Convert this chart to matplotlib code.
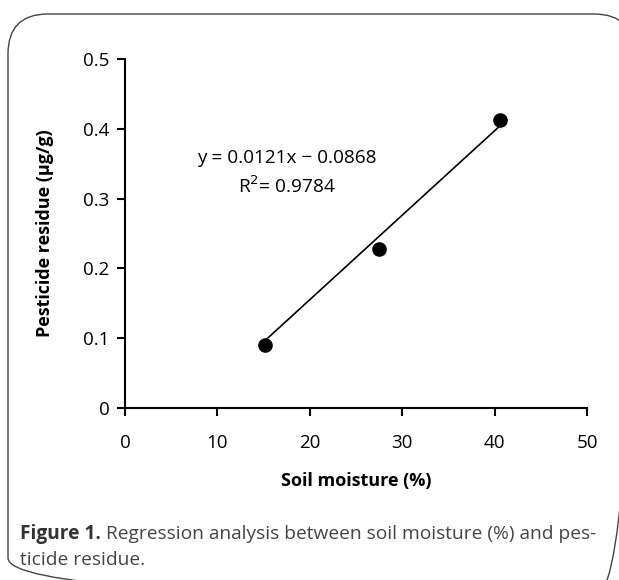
import numpy as np
import matplotlib
matplotlib.use("Agg")
import matplotlib.pyplot as plt
from matplotlib.patches import FancyBboxPatch

plt.rcParams['font.family'] = ['Open Sans', 'DejaVu Sans']

# data
soil_moisture = [15.1, 27.5, 40.6]
residue = [0.090, 0.228, 0.412]
slope = 0.0121
intercept = -0.0868
r2 = 0.9784
x_ticks = [0, 10, 20, 30, 40, 50]
y_ticks = [0, 0.1, 0.2, 0.3, 0.4, 0.5]
y_tick_labels = ['0', '0.1', '0.2', '0.3', '0.4', '0.5']

W, H = 619, 580
fig = plt.figure(figsize=(W / 100, H / 100), dpi=100)

# rounded frame around the figure panel
bg = fig.add_axes([0, 0, 1, 1])
bg.set_xlim(0, W)
bg.set_ylim(H, 0)
bg.axis('off')
frame = FancyBboxPatch((8, 14), 626, 584, boxstyle="round,pad=0,rounding_size=40",
                       fill=False, edgecolor='#444444', linewidth=1.0, clip_on=False)
bg.add_patch(frame)

ax = fig.add_axes([125 / W, 1 - 408 / H, (587 - 125) / W, (408 - 59) / H])
ax.set_xlim(0, 50)
ax.set_ylim(0, 0.5)

# trend line over the span of the data
xs = np.array([min(soil_moisture), max(soil_moisture)])
ax.plot(xs, slope * xs + intercept, color='black', lw=1.2, zorder=2)
ax.plot(soil_moisture, residue, 'o', color='black', markersize=9.5, zorder=3, clip_on=False)

ax.text(17.5, 0.358, 'y = %.4fx \u2212 %.4f' % (slope, -intercept), fontsize=13.7,
        ha='center', va='center')
ax.text(17.5, 0.317, 'R$^{2}$= %.4f' % r2, fontsize=13.7, ha='center', va='center')

for s in ['top', 'right']:
    ax.spines[s].set_visible(False)
for s in ['left', 'bottom']:
    ax.spines[s].set_linewidth(1.5)
ax.set_xticks(x_ticks)
ax.set_yticks(y_ticks)
ax.set_yticklabels(y_tick_labels)
ax.tick_params(direction='out', length=6, width=1.5, labelsize=13.5, pad=5)
ax.tick_params(axis='x', pad=13)

ax.set_xlabel('Soil moisture (%)', fontsize=13, fontweight='bold', labelpad=14)
ax.set_ylabel('Pesticide residue (\u00b5g/g)', fontsize=13, fontweight='bold', labelpad=21)

# caption
r = fig.canvas.get_renderer()
t1 = fig.text(20 / W, 1 - 534 / H, 'Figure 1.', fontsize=13.8, fontweight='bold',
              color='#333333', va='center')
bb = t1.get_window_extent(renderer=r)
fig.text(bb.x1 / W + 5 / W, 1 - 534 / H,
         'Regression analysis between soil moisture (%) and pes-',
         fontsize=13.8, color='#444444', va='center')
fig.text(20 / W, 1 - 560 / H, 'ticide residue.', fontsize=13.8, color='#444444', va='center')

fig.savefig('out.png', dpi=100)
